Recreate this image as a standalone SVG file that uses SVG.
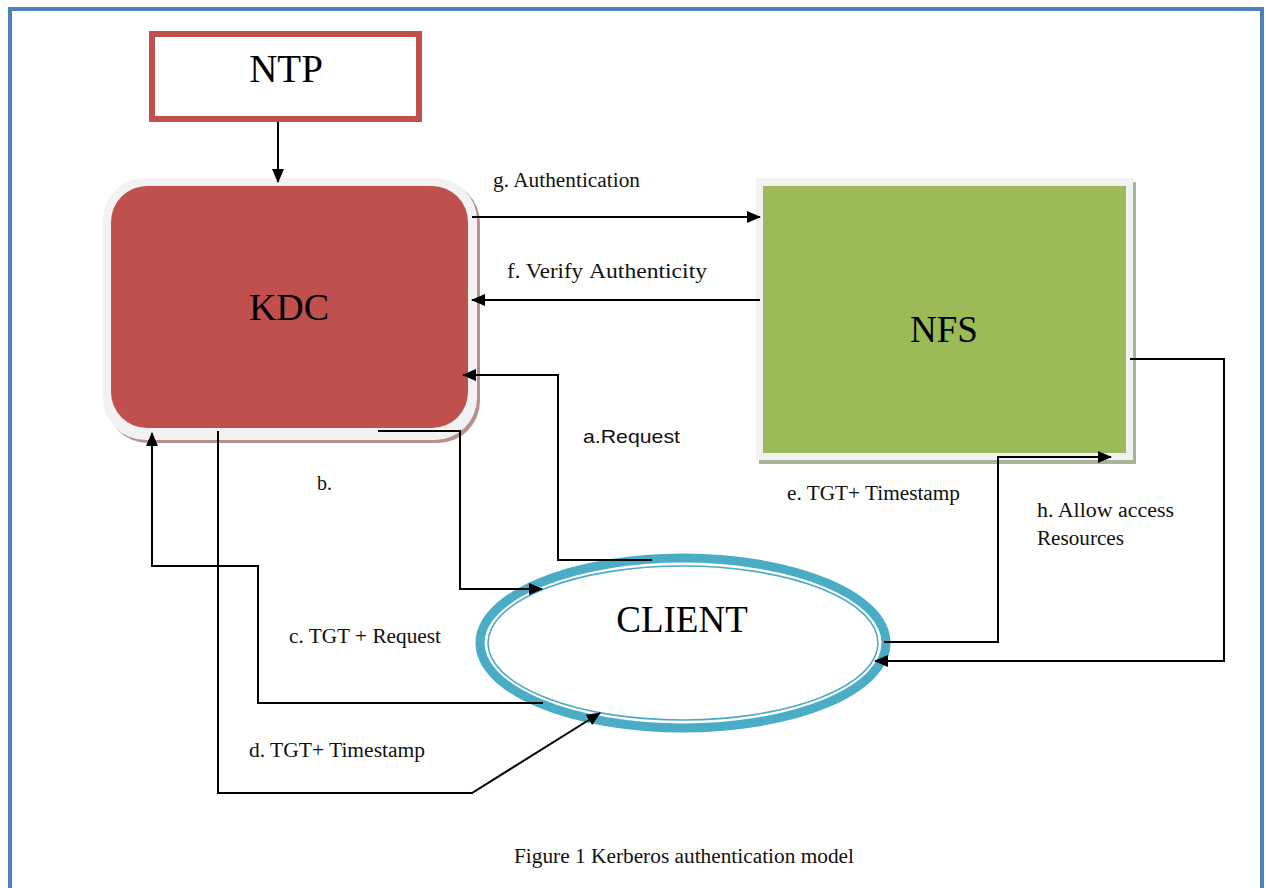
<svg xmlns="http://www.w3.org/2000/svg" width="1266" height="888" viewBox="0 0 1266 888">
<defs>
<marker id="ah" markerWidth="14" markerHeight="12" refX="13" refY="6" orient="auto" markerUnits="userSpaceOnUse">
<path d="M0,0 L14,6 L0,12 Z" fill="#000"/>
</marker>
</defs>
<style>
.lbl{font-family:"Liberation Serif","Times New Roman",serif;font-size:20px;fill:#111}
.big{font-family:"Liberation Serif","Times New Roman",serif;fill:#000}
.con{fill:none;stroke:#000;stroke-width:2}
</style>
<rect x="0" y="0" width="1266" height="888" fill="#fff"/>
<rect id="frame" x="10" y="9" width="1252" height="900" fill="none" stroke="#4f81bd" stroke-width="4"/>

<g id="ntp">
<rect x="152" y="34" width="267" height="85" fill="#fff" stroke="#c0504d" stroke-width="6"/>
<text class="big" x="286" y="82" font-size="39" text-anchor="middle">NTP</text>
</g>

<g id="kdc">
<rect x="106" y="181" width="374" height="262" rx="42" fill="#b89090"/>
<rect x="103" y="178" width="374" height="262" rx="42" fill="#f2f2f2"/>
<rect x="111" y="186" width="357" height="242" rx="36" fill="#c0504d"/>
<text class="big" x="289" y="320" font-size="38" text-anchor="middle">KDC</text>
</g>

<g id="nfs">
<rect x="759" y="182" width="377" height="282" fill="#aab395"/>
<rect x="756" y="178" width="377" height="282" fill="#f2f2f2"/>
<rect x="763" y="186" width="363" height="267" fill="#9bbb59"/>
<text class="big" x="944" y="342" font-size="37" text-anchor="middle">NFS</text>
</g>

<g id="client">
<ellipse cx="683" cy="643" rx="203" ry="85" fill="#fff" stroke="#4bacc6" stroke-width="9"/>
<ellipse cx="683" cy="643" rx="195" ry="77" fill="none" stroke="#4bacc6" stroke-width="1.6"/>
<text class="big" x="682" y="632" font-size="37" text-anchor="middle">CLIENT</text>
</g>

<g id="connectors">
<path class="con" d="M278,122 L278,182" marker-end="url(#ah)"/>
<path class="con" d="M472,217 L760,217" marker-end="url(#ah)"/>
<path class="con" d="M760,300 L472,300" marker-end="url(#ah)"/>
<path class="con" d="M652,560 L558,560 L558,375 L463,375" marker-end="url(#ah)"/>
<path class="con" d="M378,431 L460,431 L460,589 L542,589" marker-end="url(#ah)"/>
<path class="con" d="M543,703 L258,703 L258,566 L152,566 L152,433" marker-end="url(#ah)"/>
<path class="con" d="M218,431 L218,793 L472,793 L600,713" stroke-width="1.6" marker-end="url(#ah)"/>
<path class="con" d="M884,642 L998,642 L998,457 L1111,457" marker-end="url(#ah)"/>
<path class="con" d="M1130,359 L1224,359 L1224,661 L875,661" stroke-width="1.6" marker-end="url(#ah)"/>
</g>

<g id="labels">
<text class="lbl" x="493" y="187" textLength="147" lengthAdjust="spacingAndGlyphs">g. Authentication</text>
<text class="lbl" x="507" y="278" textLength="76" lengthAdjust="spacingAndGlyphs">f. Verify</text>
<text class="lbl" x="589" y="278" font-size="23" textLength="118" lengthAdjust="spacingAndGlyphs">Authenticity</text>
<text x="583" y="443" font-family="Liberation Sans, Arial, sans-serif" font-size="19" fill="#111" textLength="97" lengthAdjust="spacingAndGlyphs">a.Request</text>
<text class="lbl" x="317" y="490">b.</text>
<text class="lbl" x="289" y="643" textLength="152" lengthAdjust="spacingAndGlyphs">c. TGT + Request</text>
<text class="lbl" x="249" y="757" textLength="176" lengthAdjust="spacingAndGlyphs">d. TGT+ Timestamp</text>
<text class="lbl" x="787" y="500" textLength="173" lengthAdjust="spacingAndGlyphs">e. TGT+ Timestamp</text>
<text class="lbl" x="1037" y="517" textLength="137" lengthAdjust="spacingAndGlyphs">h. Allow access</text>
<text class="lbl" x="1037" y="545" textLength="87" lengthAdjust="spacingAndGlyphs">Resources</text>
<text class="lbl" x="514" y="863" font-size="19" textLength="340" lengthAdjust="spacingAndGlyphs">Figure 1 Kerberos authentication model</text>
</g>
</svg>
